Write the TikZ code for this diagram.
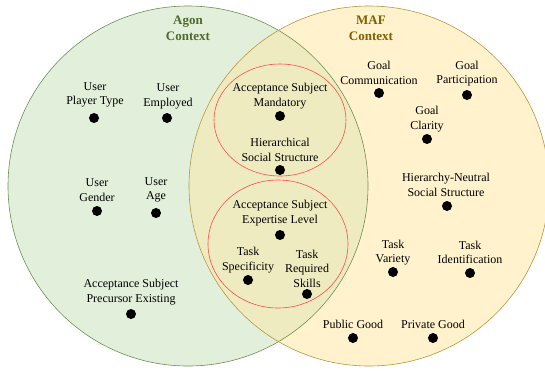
\documentclass[tikz,border=0pt]{standalone}
\usepackage{fontspec}
\setmainfont{Liberation Serif}
\newfontfamily\labelfont{Liberation Serif}
\definecolor{agonfill}{HTML}{E2EFDA}
\definecolor{agonline}{HTML}{6F8F52}
\definecolor{agontext}{HTML}{4E6B2F}
\definecolor{maffill}{HTML}{FFF2CC}
\definecolor{mafline}{HTML}{B8963E}
\definecolor{maftext}{HTML}{7F6000}
\definecolor{bothfill}{HTML}{EFEBC0}
\definecolor{groupline}{HTML}{FF4B4B}
\tikzset{
  lbl/.style={align=center, font=\labelfont\fontsize{12}{14.5}\selectfont, inner sep=0pt},
  ttl/.style={align=center, font=\labelfont\fontsize{13}{16}\selectfont\bfseries, inner sep=0pt},
  blob/.style={circle, fill=black, minimum size=10pt, inner sep=0pt},
}
\begin{document}
\begin{tikzpicture}[x=1pt,y=-1pt]
\useasboundingbox (0,0) rectangle (545,370);
\clip (0,0) rectangle (545,370);
% the two contexts
\fill[agonfill] (188,186) circle[radius=180pt];
\fill[maffill] (369,186) circle[radius=180pt];
\begin{scope}
  \clip (188,186) circle[radius=180pt];
  \fill[bothfill] (369,186) circle[radius=180pt];
\end{scope}
\draw[agonline, line width=0.6pt] (188,186) circle[radius=180pt];
\draw[mafline, line width=0.6pt] (369,186) circle[radius=180pt];
% groups inside the overlap
\draw[groupline, line width=0.6pt] (280,120) ellipse[x radius=66pt, y radius=56pt];
\draw[groupline, line width=0.6pt] (278,244) ellipse[x radius=70pt, y radius=64pt];
% titles
\node[ttl, text=agontext] (agon) at (188,28) {Agon\\Context};
\node[ttl, text=maftext] (maf) at (371,28) {MAF\\Context};
% Agon factors
\node[lbl] (upt) at (95,95) {User\\Player Type};
\node[blob] (upt-d) at (94,118) {};
\node[lbl] (uem) at (168,96.5) {User\\Employed};
\node[blob] (uem-d) at (167,118) {};
\node[lbl] (ugn) at (97,190) {User\\Gender};
\node[blob] (ugn-d) at (97,211) {};
\node[lbl] (uag) at (156,190) {User\\Age};
\node[blob] (uag-d) at (156,213) {};
\node[lbl] (asp) at (131,292) {Acceptance Subject\\Precursor Existing};
\node[blob] (asp-d) at (131,314) {};
% shared factors
\node[lbl] (asm) at (280,96) {Acceptance Subject\\Mandatory};
\node[blob] (asm-d) at (280,116) {};
\node[lbl] (hss) at (280,150) {Hierarchical\\Social Structure};
\node[blob] (hss-d) at (280,170) {};
\node[lbl] (ase) at (280,213) {Acceptance Subject\\Expertise Level};
\node[blob] (ase-d) at (280,235) {};
\node[lbl] (tsp) at (248,260) {Task\\Specificity};
\node[blob] (tsp-d) at (248,280) {};
\node[lbl] (trs) at (307,268.5) {Task\\Required\\Skills};
\node[blob] (trs-d) at (307,294) {};
% MAF factors
\node[lbl] (gco) at (379,73) {Goal\\Communication};
\node[blob] (gco-d) at (379,93) {};
\node[lbl] (gpa) at (467,73.5) {Goal\\Participation};
\node[blob] (gpa-d) at (467,95) {};
\node[lbl] (gcl) at (427,119) {Goal\\Clarity};
\node[blob] (gcl-d) at (427,139) {};
\node[lbl] (hns) at (446,185) {Hierarchy-Neutral\\Social Structure};
\node[blob] (hns-d) at (447,206) {};
\node[lbl] (tva) at (393,252.5) {Task\\Variety};
\node[blob] (tva-d) at (393,272) {};
\node[lbl] (tid) at (470,252.5) {Task\\Identification};
\node[blob] (tid-d) at (470,273) {};
\node[lbl] (pub) at (353,324) {Public Good};
\node[blob] (pub-d) at (353,338) {};
\node[lbl] (pri) at (433,324) {Private Good};
\node[blob] (pri-d) at (433,338) {};
\end{tikzpicture}
\end{document}
